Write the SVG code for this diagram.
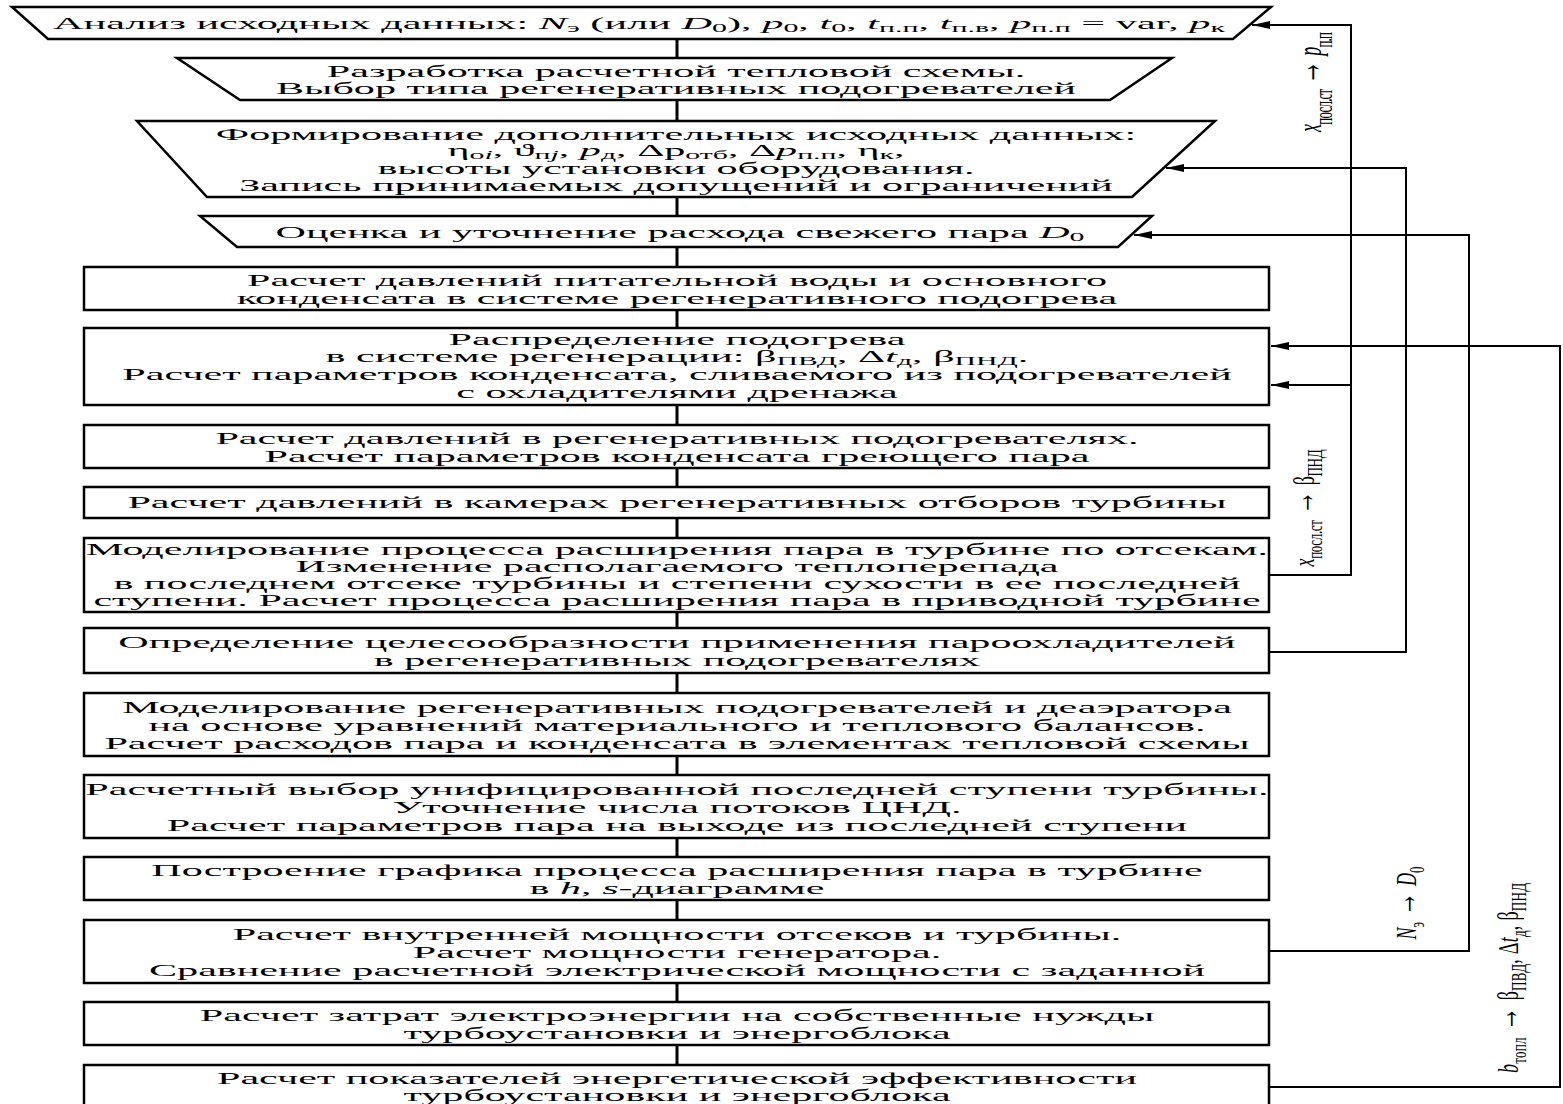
<svg xmlns="http://www.w3.org/2000/svg" width="1563" height="1104" viewBox="0 0 1563 1104">
<defs>
<marker id="ah" viewBox="0 0 18 8" refX="18" refY="4" markerWidth="18" markerHeight="8" markerUnits="userSpaceOnUse" orient="auto"><path d="M0,0 L18,4 L0,8 Z" fill="#000"/></marker>
</defs>
<style>
.box{fill:#fff;stroke:#000;stroke-width:2.5}
.t{font-family:"Liberation Serif","Times New Roman",serif;font-size:17px;fill:#000;text-anchor:middle}
.i{font-style:italic}
.s{font-size:12px}
.cn{fill:none;stroke:#000;stroke-width:3}
.fb{fill:none;stroke:#000;stroke-width:2}
.lb{font-family:"Liberation Serif","Times New Roman",serif;font-size:18px;fill:#000;text-anchor:middle}
.ls{font-size:13px}
.ar{font-weight:bold;font-size:24px}
</style>
<rect width="1563" height="1104" fill="#fff"/>
<g id="connectors">
<path class="cn" d="M677,39V58 M677,100V121 M677,197V216 M677,247V267 M677,310V328 M677,405V425 M677,468V487 M677,518V538 M677,612V628 M677,673V693 M677,756V775 M677,838V857 M677,900V920 M677,983V1002 M677,1045V1065"/>
<path class="fb" d="M1269,575H1351V25H1252" marker-end="url(#ah)"/>
<path class="fb" d="M1351,385H1271" marker-end="url(#ah)"/>
<path class="fb" d="M1269,652H1406V168H1166" marker-end="url(#ah)"/>
<path class="fb" d="M1269,951H1469V235H1134" marker-end="url(#ah)"/>
<path class="fb" d="M1269,1087H1560V346H1271" marker-end="url(#ah)"/>
<text class="lb" transform="translate(1321,82) rotate(-90) scale(1,1.9)" textLength="100"><tspan class="i">x</tspan><tspan class="ls" dy="6">посл.ст</tspan><tspan class="ar" dy="-6"> → </tspan><tspan class="i">p</tspan><tspan class="ls" dy="6">п.п</tspan></text>
<text class="lb" transform="translate(1314,508) rotate(-90) scale(1,1.6)" textLength="117"><tspan class="i">x</tspan><tspan class="ls" dy="5">посл.ст</tspan><tspan class="ar" dy="-5"> → </tspan><tspan>β</tspan><tspan class="ls" dy="5">ПНД</tspan></text>
<text class="lb" transform="translate(1416,903) rotate(-90) scale(1,1.6)" textLength="73"><tspan class="i">N</tspan><tspan class="ls" dy="5">э</tspan><tspan class="ar" dy="-5"> → </tspan><tspan class="i">D</tspan><tspan class="ls" dy="5">0</tspan></text>
<text class="lb" transform="translate(1518,978) rotate(-90) scale(1,1.6)" textLength="190"><tspan class="i">b</tspan><tspan class="ls" dy="5">топл</tspan><tspan class="ar" dy="-5"> → </tspan><tspan>β</tspan><tspan class="ls" dy="5">ПВД</tspan><tspan dy="-5">, Δ</tspan><tspan class="i">t</tspan><tspan class="ls" dy="5">д</tspan><tspan dy="-5">, β</tspan><tspan class="ls" dy="5">ПНД</tspan></text>
</g>
<g id="n1"><polygon class="box" points="12,7 1271,7 1233,39 48,39"/>
<text class="t" transform="translate(639,0) scale(2.49,1)" y="29">Анализ исходных данных: <tspan class="i">N</tspan><tspan class="s" dy="3">э</tspan><tspan dy="-3"> (или </tspan><tspan class="i">D</tspan><tspan class="s" dy="3">0</tspan><tspan dy="-3">), </tspan><tspan class="i">p</tspan><tspan class="s" dy="3">0</tspan><tspan dy="-3">, </tspan><tspan class="i">t</tspan><tspan class="s" dy="3">0</tspan><tspan dy="-3">, </tspan><tspan class="i">t</tspan><tspan class="s" dy="3">п.п</tspan><tspan dy="-3">, </tspan><tspan class="i">t</tspan><tspan class="s" dy="3">п.в</tspan><tspan dy="-3">, </tspan><tspan class="i">p</tspan><tspan class="s" dy="3">п.п</tspan><tspan dy="-3"> = var, </tspan><tspan class="i">p</tspan><tspan class="s" dy="3">к</tspan></text></g>
<g id="n2"><polygon class="box" points="177,58 1172,58 1110,100 240,100"/>
<g transform="translate(676,0) scale(2.48,1)"><text class="t" y="77">Разработка расчетной тепловой схемы.</text><text class="t" y="94">Выбор типа регенеративных подогревателей</text></g></g>
<g id="n3"><polygon class="box" points="137,121 1215,121 1132,197 207,197"/>
<g transform="translate(676,0) scale(2.48,1)"><text class="t" y="140">Формирование дополнительных исходных данных:</text>
<text class="t" y="156">η<tspan class="s" dy="3">o<tspan class="i">i</tspan></tspan><tspan dy="-3">, ϑ</tspan><tspan class="s" dy="3">п<tspan class="i">j</tspan></tspan><tspan dy="-3">, </tspan><tspan class="i">p</tspan><tspan class="s" dy="3">д</tspan><tspan dy="-3">, Δp</tspan><tspan class="s" dy="3">отб</tspan><tspan dy="-3">, Δ</tspan><tspan class="i">p</tspan><tspan class="s" dy="3">п.п</tspan><tspan dy="-3">, η</tspan><tspan class="s" dy="3">к</tspan><tspan dy="-3">,</tspan></text>
<text class="t" y="174">высоты установки оборудования.</text><text class="t" y="191">Запись принимаемых допущений и ограничений</text></g></g>
<g id="n4"><polygon class="box" points="200,216 1152,216 1118,247 237,247"/>
<g transform="translate(680,0) scale(2.48,1)"><text class="t" y="238">Оценка и уточнение расхода свежего пара <tspan class="i">D</tspan><tspan class="s" dy="3">0</tspan></text></g></g>
<g id="n5"><rect class="box" x="84" y="267" width="1185" height="43"/>
<g transform="translate(677,0) scale(2.48,1)"><text class="t" y="286">Расчет давлений питательной воды и основного</text><text class="t" y="304">конденсата в системе регенеративного подогрева</text></g></g>
<g id="n6"><rect class="box" x="84" y="328" width="1185" height="77"/>
<g transform="translate(677,0) scale(2.48,1)"><text class="t" y="345">Распределение подогрева</text>
<text class="t" y="362">в системе регенерации: β<tspan class="s" dy="3">ПВД</tspan><tspan dy="-3">, Δ</tspan><tspan class="i">t</tspan><tspan class="s" dy="3">д</tspan><tspan dy="-3">, β</tspan><tspan class="s" dy="3">ПНД</tspan><tspan dy="-3">.</tspan></text>
<text class="t" y="380">Расчет параметров конденсата, сливаемого из подогревателей</text><text class="t" y="398">с охладителями дренажа</text></g></g>
<g id="n7"><rect class="box" x="84" y="425" width="1185" height="43"/>
<g transform="translate(677,0) scale(2.48,1)"><text class="t" y="444">Расчет давлений в регенеративных подогревателях.</text><text class="t" y="462">Расчет параметров конденсата греющего пара</text></g></g>
<g id="n8"><rect class="box" x="84" y="487" width="1185" height="31"/>
<g transform="translate(677,0) scale(2.48,1)"><text class="t" y="508">Расчет давлений в камерах регенеративных отборов турбины</text></g></g>
<g id="n9"><rect class="box" x="84" y="538" width="1185" height="74"/>
<g transform="translate(677,0) scale(2.48,1)"><text class="t" y="555">Моделирование процесса расширения пара в турбине по отсекам.</text><text class="t" y="572">Изменение располагаемого теплоперепада</text><text class="t" y="589">в последнем отсеке турбины и степени сухости в ее последней</text><text class="t" y="606">ступени. Расчет процесса расширения пара в приводной турбине</text></g></g>
<g id="n10"><rect class="box" x="84" y="628" width="1185" height="45"/>
<g transform="translate(677,0) scale(2.48,1)"><text class="t" y="648">Определение целесообразности применения пароохладителей</text><text class="t" y="666">в регенеративных подогревателях</text></g></g>
<g id="n11"><rect class="box" x="84" y="693" width="1185" height="63"/>
<g transform="translate(677,0) scale(2.48,1)"><text class="t" y="713">Моделирование регенеративных подогревателей и деаэратора</text><text class="t" y="731">на основе уравнений материального и теплового балансов.</text><text class="t" y="749">Расчет расходов пара и конденсата в элементах тепловой схемы</text></g></g>
<g id="n12"><rect class="box" x="84" y="775" width="1185" height="63"/>
<g transform="translate(677,0) scale(2.48,1)"><text class="t" y="795">Расчетный выбор унифицированной последней ступени турбины.</text><text class="t" y="813">Уточнение числа потоков ЦНД.</text><text class="t" y="831">Расчет параметров пара на выходе из последней ступени</text></g></g>
<g id="n13"><rect class="box" x="84" y="857" width="1185" height="43"/>
<g transform="translate(677,0) scale(2.48,1)"><text class="t" y="876">Построение графика процесса расширения пара в турбине</text><text class="t" y="894">в <tspan class="i">h</tspan>, <tspan class="i">s</tspan>-диаграмме</text></g></g>
<g id="n14"><rect class="box" x="84" y="920" width="1185" height="63"/>
<g transform="translate(677,0) scale(2.48,1)"><text class="t" y="940">Расчет внутренней мощности отсеков и турбины.</text><text class="t" y="958">Расчет мощности генератора.</text><text class="t" y="976">Сравнение расчетной электрической мощности с заданной</text></g></g>
<g id="n15"><rect class="box" x="84" y="1002" width="1185" height="43"/>
<g transform="translate(677,0) scale(2.48,1)"><text class="t" y="1021">Расчет затрат электроэнергии на собственные нужды</text><text class="t" y="1039">турбоустановки и энергоблока</text></g></g>
<g id="n16"><rect class="box" x="84" y="1065" width="1185" height="50"/>
<g transform="translate(677,0) scale(2.48,1)"><text class="t" y="1084">Расчет показателей энергетической эффективности</text><text class="t" y="1101">турбоустановки и энергоблока</text></g></g>
</svg>
